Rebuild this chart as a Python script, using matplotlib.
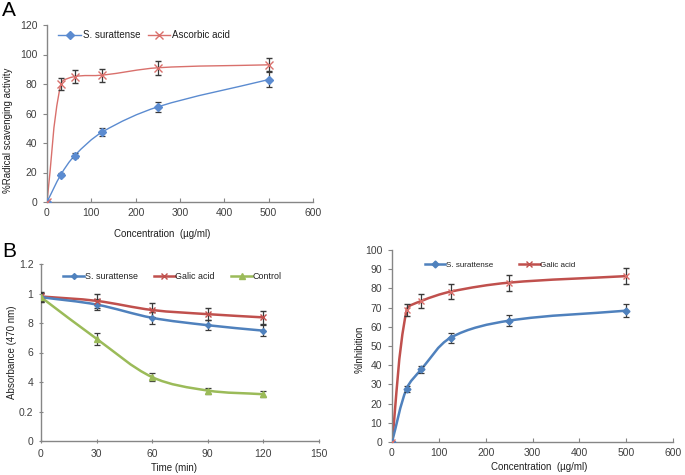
import numpy as np
import matplotlib
matplotlib.use("Agg")
import matplotlib.pyplot as plt
from matplotlib.path import Path
from matplotlib.patches import PathPatch
from matplotlib.lines import Line2D

plt.rcParams['font.family'] = ['Liberation Sans', 'DejaVu Sans']

# ---------------- data ----------------
# Panel A: DPPH radical scavenging
conc = [0, 31.25, 62.5, 125, 250, 500]
a_sur = [0, 18.5, 31.5, 47.5, 64.5, 83]
a_sur_err = [0, 1.2, 1.7, 2.9, 3.3, 4.8]
a_asc = [0, 80, 85, 86, 91, 93]
a_asc_err = [0, 3.8, 4.2, 4.5, 4.8, 4.5]

# Panel B: absorbance over time
time = [0, 30, 60, 90, 120]
b_sur = [0.975, 0.925, 0.835, 0.785, 0.748]
b_sur_err = [0.03, 0.035, 0.04, 0.035, 0.038]
b_gal = [0.98, 0.95, 0.888, 0.86, 0.838]
b_gal_err = [0.03, 0.045, 0.05, 0.042, 0.043]
b_ctl = [0.975, 0.693, 0.433, 0.342, 0.317]
b_ctl_err = [0.03, 0.04, 0.025, 0.02, 0.02]
b_yticks = [0, 0.2, 0.4, 0.6, 0.8, 1, 1.2]
b_yticklabels = ['0', '0.2', '4', '6', '8', '1', '1.2']

# Panel C: % inhibition
c_sur = [0, 27.8, 37.8, 54.3, 63.2, 68.4]
c_sur_err = [0, 1.6, 2.0, 2.5, 3.0, 3.5]
c_gal = [0, 68.7, 73.4, 78.3, 83.0, 86.4]
c_gal_err = [0, 3.2, 3.6, 4.0, 4.2, 4.1]

BLUE = '#4F81BD'
RED = '#C0504D'
GREEN = '#9BBB59'
ABLUE = '#5B8BD0'
ARED = '#D9706C'
SPINE = '#868686'
TXT = '#404040'
ERR = '#3A3A3A'
LBL = '#202020'


def smooth_line(ax, x, y, color, lw, k=0.33):
    """Excel-style smoothed line drawn as cubic Bezier path through the data points."""
    bbox = ax.get_window_extent()
    x0, x1 = ax.get_xlim()
    y0, y1 = ax.get_ylim()
    sx = bbox.width / (x1 - x0)
    sy = bbox.height / (y1 - y0)
    P = np.column_stack([(np.asarray(x) - x0) * sx, (np.asarray(y) - y0) * sy])
    n = len(P)
    tang = []
    for i in range(n):
        a = P[max(i - 1, 0)]
        b = P[min(i + 1, n - 1)]
        d = b - a
        nd = np.hypot(*d)
        tang.append(d / nd if nd > 0 else d)
    verts = [P[0]]
    codes = [Path.MOVETO]
    for i in range(n - 1):
        L = np.hypot(*(P[i + 1] - P[i]))
        c1 = P[i] + tang[i] * L * k
        c2 = P[i + 1] - tang[i + 1] * L * k
        verts += [c1, c2, P[i + 1]]
        codes += [Path.CURVE4] * 3
    V = np.array(verts)
    V[:, 0] = V[:, 0] / sx + x0
    V[:, 1] = V[:, 1] / sy + y0
    patch = PathPatch(Path(V, codes), fill=False, edgecolor=color, lw=lw,
                      capstyle='round', joinstyle='round', zorder=2)
    ax.add_patch(patch)


def style_axes(ax, xdir, ydir):
    for s in ['top', 'right']:
        ax.spines[s].set_visible(False)
    for s in ['left', 'bottom']:
        ax.spines[s].set_color(SPINE)
        ax.spines[s].set_linewidth(1.0)
    ax.tick_params(axis='x', direction=xdir, length=3, width=0.8, color=SPINE,
                   labelsize=7.5, labelcolor=TXT, pad=4)
    ax.tick_params(axis='y', direction=ydir, length=3, width=0.8, color=SPINE,
                   labelsize=7.5, labelcolor=TXT, pad=4)


fig = plt.figure(figsize=(6.85, 4.75), dpi=100)

# ---------------- Panel A ----------------
axA = fig.add_axes([47 / 685, 1 - 202 / 475, 266 / 685, 177 / 475])
axA.set_xlim(0, 600)
axA.set_ylim(0, 120)
axA.set_xticks(range(0, 601, 100))
axA.set_yticks(range(0, 121, 20))
style_axes(axA, 'in', 'out')
smooth_line(axA, conc, a_asc, ARED, 1.0)
smooth_line(axA, conc, a_sur, ABLUE, 1.0)
axA.errorbar(conc, a_sur, yerr=a_sur_err, fmt='D', ms=4, color=ABLUE, mec=ABLUE,
             ecolor=ERR, elinewidth=0.9, capsize=2.5, capthick=0.9, zorder=3)
axA.errorbar(conc, a_asc, yerr=a_asc_err, fmt='x', ms=5.5, color=ARED, mew=1.0,
             ecolor=ERR, elinewidth=0.9, capsize=2.5, capthick=0.9, zorder=3)
axA.set_xlabel('Concentration  (µg/ml)', fontsize=7, color=LBL)
axA.xaxis.set_label_coords(0.432, -0.150)
axA.set_ylabel('%Radical scavenging activity', fontsize=7, color=LBL)
axA.yaxis.set_label_coords(-0.128, 0.407)
hA = [Line2D([], [], color=ABLUE, marker='D', ms=4, lw=1.0),
      Line2D([], [], color=ARED, marker='x', ms=5.5, lw=1.0)]
axA.legend(hA, ['S. surattense', 'Ascorbic acid'], ncol=2, frameon=False,
           fontsize=7, loc='upper left', bbox_to_anchor=(0.01, 1.02),
           handlelength=2.3, handletextpad=0.2, columnspacing=0.8,
           labelcolor=LBL)
fig.text(2 / 685, 1 - 16 / 475, 'A', fontsize=15, color='black')

# ---------------- Panel B ----------------
axB = fig.add_axes([41 / 685, 1 - 441 / 475, 278 / 685, 177 / 475])
axB.set_xlim(0, 150)
axB.set_ylim(0, 1.2)
axB.set_xticks(range(0, 151, 30))
axB.set_yticks(b_yticks)
axB.set_yticklabels(b_yticklabels)
style_axes(axB, 'inout', 'inout')
smooth_line(axB, time, b_ctl, GREEN, 1.8)
smooth_line(axB, time, b_gal, RED, 1.8)
smooth_line(axB, time, b_sur, BLUE, 1.8)
axB.errorbar(time, b_sur, yerr=b_sur_err, fmt='D', ms=3, color=BLUE,
             ecolor=ERR, elinewidth=0.9, capsize=2.5, capthick=0.9, zorder=3)
axB.errorbar(time, b_gal, yerr=b_gal_err, fmt='x', ms=4.5, color=RED, mew=1.0,
             ecolor=ERR, elinewidth=0.9, capsize=2.5, capthick=0.9, zorder=3)
axB.errorbar(time, b_ctl, yerr=b_ctl_err, fmt='^', ms=4, color=GREEN,
             ecolor=ERR, elinewidth=0.9, capsize=2.5, capthick=0.9, zorder=3)
axB.set_xlabel('Time (min)', fontsize=7, color=LBL)
axB.xaxis.set_label_coords(0.48, -0.124)
axB.set_ylabel('Absorbance (470 nm)', fontsize=7, color=LBL)
axB.yaxis.set_label_coords(-0.085, 0.5)
hB = [Line2D([], [], color=BLUE, marker='D', ms=3, lw=1.8),
      Line2D([], [], color=RED, marker='x', ms=4.5, lw=1.8),
      Line2D([], [], color=GREEN, marker='^', ms=4, lw=1.8)]
axB.legend(hB, ['S. surattense', 'Galic acid', 'Control'], ncol=3, frameon=False,
           fontsize=6.4, loc='upper left', bbox_to_anchor=(0.05, 1.0),
           handlelength=2.4, handletextpad=0.05, columnspacing=1.8,
           labelcolor=LBL)
fig.text(2 / 685, 1 - 257 / 475, 'B', fontsize=15, color='black')

# ---------------- Panel C ----------------
axC = fig.add_axes([392 / 685, 1 - 442 / 475, 281 / 685, 192 / 475])
axC.set_xlim(0, 600)
axC.set_ylim(0, 100)
axC.set_xticks(range(0, 601, 100))
axC.set_yticks(range(0, 101, 10))
style_axes(axC, 'in', 'out')
smooth_line(axC, conc, c_gal, RED, 1.8)
smooth_line(axC, conc, c_sur, BLUE, 1.8)
axC.errorbar(conc, c_sur, yerr=c_sur_err, fmt='D', ms=3.5, color=BLUE,
             ecolor=ERR, elinewidth=0.9, capsize=2.5, capthick=0.9, zorder=3)
axC.errorbar(conc, c_gal, yerr=c_gal_err, fmt='x', ms=5, color=ARED, mew=1.0,
             ecolor=ERR, elinewidth=0.9, capsize=2.5, capthick=0.9, zorder=3)
axC.set_xlabel('Concentration  (µg/ml)', fontsize=7, color=LBL)
axC.xaxis.set_label_coords(0.523, -0.104)
axC.set_ylabel('%Inhibition', fontsize=7, color=LBL)
axC.yaxis.set_label_coords(-0.096, 0.484)
hC = [Line2D([], [], color=BLUE, marker='D', ms=3.5, lw=1.8),
      Line2D([], [], color=RED, marker='x', ms=5, lw=1.8)]
axC.legend(hC, ['S. surattense', 'Galic acid'], ncol=2, frameon=False,
           fontsize=5.8, loc='upper left', bbox_to_anchor=(0.09, 0.98),
           handlelength=2.6, handletextpad=0.05, columnspacing=3.2,
           labelcolor=LBL)

fig.savefig('out.png', dpi=100)
